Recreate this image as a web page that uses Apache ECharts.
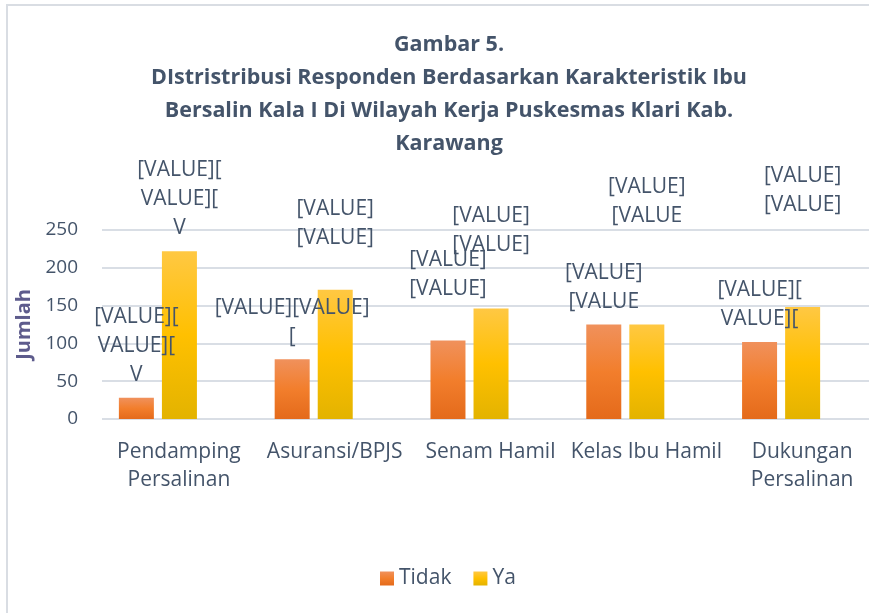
<!DOCTYPE html>
<html>
<head>
<meta charset="utf-8">
<script src="https://cdn.jsdelivr.net/npm/echarts@6/dist/echarts.min.js"></script>
<style>
html,body{margin:0;padding:0;background:#fff;}
#c{width:869px;height:613px;}
</style>
</head>
<body>
<div id="c"></div>
<script>
const categories = ['Pendamping\nPersalinan', 'Asuransi/BPJS', 'Senam Hamil', 'Kelas Ibu Hamil', 'Dukungan\nPersalinan'];
const tidakValues = [28, 79, 104, 125, 102];
const yaValues = [222, 171, 146, 125, 148];
const yTicks = [0, 50, 100, 150, 200, 250];
const seriesNames = ['Tidak', 'Ya'];
// Data label texts as shown in the reference (unfilled Excel placeholders)
const tidakLabels = ['[VALUE][\nVALUE][\nV', '[VALUE][VALUE]\n[', '[VALUE]\n[VALUE]', '[VALUE]\n[VALUE', '[VALUE][\nVALUE]['];
const yaLabels = ['[VALUE][\nVALUE][\nV', '[VALUE]\n[VALUE]', '[VALUE]\n[VALUE]', '[VALUE]\n[VALUE', '[VALUE]\n[VALUE]'];

// label placement (style config, kept apart from the data)
const tidakLift = [8, 8, 37, 8, 8];
const yaLift = [9, 37, 49, 94, 88];

const FONT = 'Open Sans';
const TXT = '#44546A';

const chart = echarts.init(document.getElementById('c'), null, {renderer: 'canvas'});

function grad(c0, c1, c2) {
  return new echarts.graphic.LinearGradient(0, 0, 0, 1, [
    {offset: 0, color: c0}, {offset: 0.5, color: c1}, {offset: 1, color: c2}
  ]);
}

function buildData(vals, labels, lifts) {
  return vals.map((v, i) => ({
    value: v,
    label: {formatter: labels[i], distance: lifts[i]}
  }));
}

const labelStyle = {
  show: true, position: 'top', color: TXT, fontFamily: FONT, fontSize: 21, lineHeight: 29, align: 'center'
};

chart.setOption({
  animation: false,
  backgroundColor: '#fff',
  title: {
    text: 'Gambar 5.\nDIstristribusi Responden Berdasarkan Karakteristik Ibu\nBersalin Kala I Di Wilayah Kerja Puskesmas Klari Kab.\nKarawang',
    left: 444, top: 23,
    textAlign: 'center',
    textStyle: {fontFamily: 'Open Sans', fontWeight: 'bold', fontSize: 21.5, lineHeight: 33, color: TXT}
  },
  legend: {
    data: seriesNames, bottom: 19, left: 375,
    icon: 'rect', itemWidth: 14, itemHeight: 14, itemGap: 22,
    textStyle: {fontFamily: FONT, fontSize: 21, color: TXT}
  },
  graphic: [{
    type: 'rect', shape: {x: 7, y: 5, width: 1000, height: 1000},
    style: {fill: 'none', stroke: '#D9DDE3', lineWidth: 2}, silent: true, z: -10
  }],
  grid: [
    {left: 102, right: 0, top: 230, bottom: 194},
    {left: 80, right: 10, top: 230, bottom: 194}
  ],
  xAxis: [
    {type: 'category', gridIndex: 0, data: categories, show: false},
    {type: 'category', gridIndex: 1, data: categories,
     axisLine: {show: false}, axisTick: {show: false},
     axisLabel: {interval: 0, color: TXT, fontFamily: FONT, fontSize: 21, lineHeight: 28, margin: 19,
       padding: [0, 0, 0, 42]}}
  ],
  yAxis: [
    {type: 'value', gridIndex: 0, min: 0, max: 250, interval: 50,
     axisLine: {show: false}, axisTick: {show: false},
     axisLabel: {color: TXT, fontFamily: FONT, fontSize: 19, margin: 24,
       formatter: v => yTicks.includes(v) ? String(v) : ''},
     splitLine: {lineStyle: {color: '#D9DEE5', width: 2}},
     name: 'Jumlah', nameLocation: 'middle', nameGap: 63, nameRotate: 90,
     nameTextStyle: {fontFamily: FONT, fontWeight: 'bold', fontSize: 20, color: '#5D5B8C'}},
    {type: 'value', gridIndex: 1, min: 0, max: 250, interval: 50, show: false, splitLine: {show: false}}
  ],
  series: [
    {name: seriesNames[0], type: 'bar', xAxisIndex: 1, yAxisIndex: 1, barWidth: 35, barGap: '23%',
     itemStyle: {color: grad('#F0915C', '#F27E2C', '#E46A1B')},
     label: labelStyle, data: buildData(tidakValues, tidakLabels, tidakLift)},
    {name: seriesNames[1], type: 'bar', xAxisIndex: 1, yAxisIndex: 1, barWidth: 35, barGap: '23%',
     itemStyle: {color: grad('#FFC843', '#FFC000', '#E3B300')},
     label: labelStyle, data: buildData(yaValues, yaLabels, yaLift)}
  ]
});
</script>
</body>
</html>
